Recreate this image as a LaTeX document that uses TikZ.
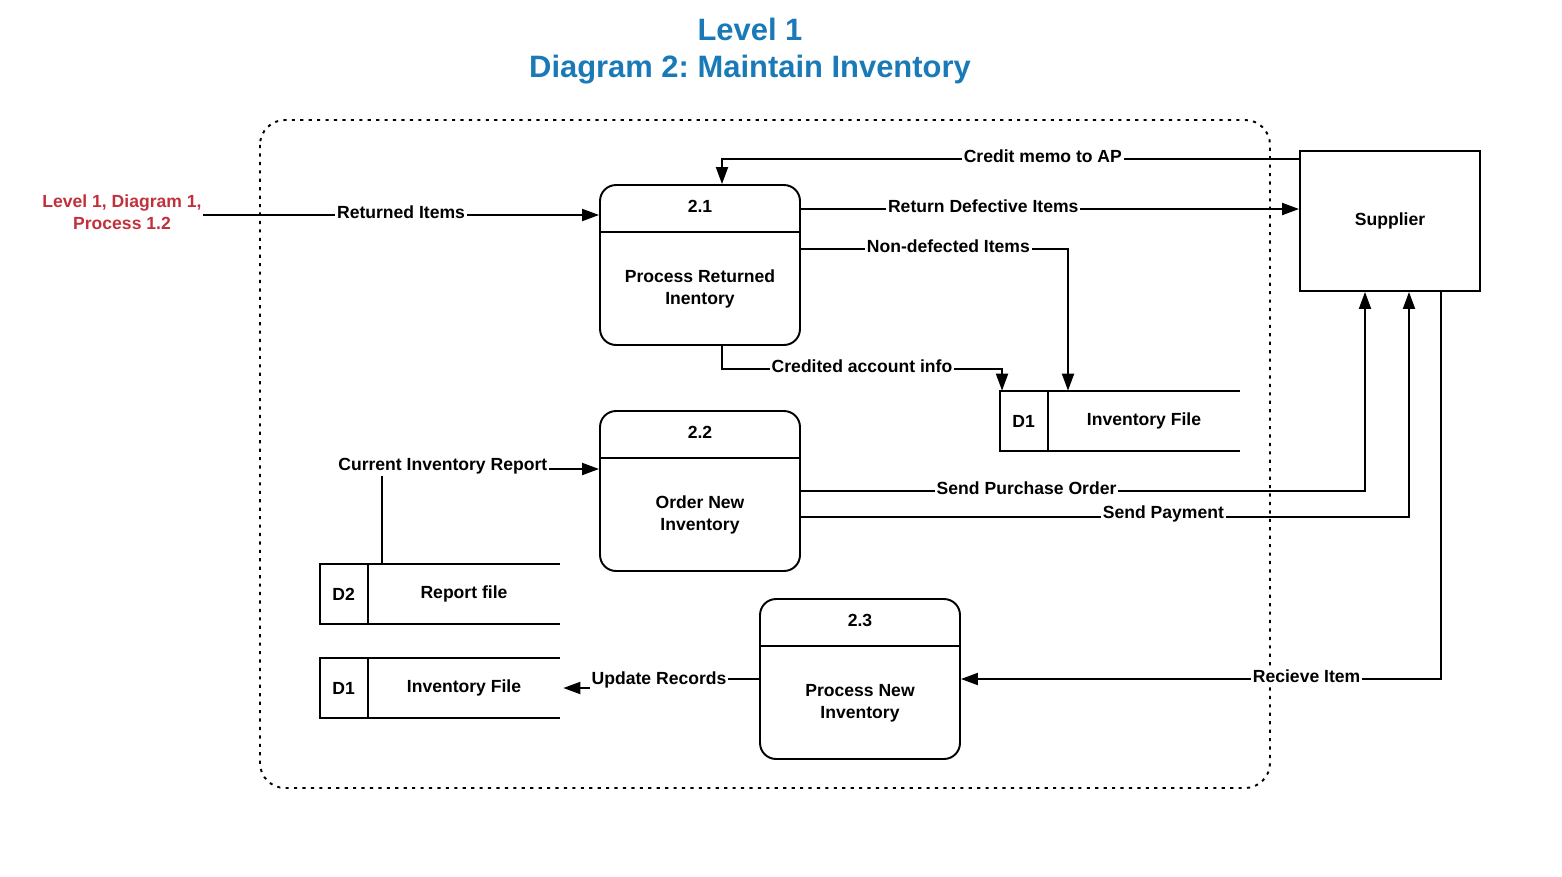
\documentclass[tikz,border=0pt]{standalone}
\usepackage{fontspec}
\setmainfont{Liberation Sans}
\frenchspacing
\usetikzlibrary{arrows.meta}
\tikzset{
  flow/.style={line width=1.1pt, -{Triangle[length=0.34cm,width=0.24cm]}},
  plain/.style={line width=1.1pt},
  lbl/.style={font=\bfseries\fontsize{10}{12}\selectfont, fill=white, inner sep=1pt, yshift=0.06cm},
  proc/.style={draw, line width=1.1pt, rounded corners=0.32cm, minimum width=4cm, minimum height=3.2cm},
  store/.style={minimum width=4.8cm, minimum height=1.2cm},
  txt/.style={font=\bfseries\fontsize{10}{12.5}\selectfont, align=center},
}
\begin{document}
\begin{tikzpicture}[x=0.02cm, y=-0.02cm]
            \definecolor{ttl}{HTML}{1A7AB8}
            \definecolor{ext}{HTML}{C1313C}
            \useasboundingbox (0,0) rectangle (1562,876);
            % title
            \node[font=\bfseries\fontsize{17.6}{21}\selectfont, text=ttl] (t1) at (750,29) {Level 1};
            \node[font=\bfseries\fontsize{17.6}{21}\selectfont, text=ttl] (t2) at (750,70) {Diagram 2: Maintain Inventory};
            % system boundary
            \draw[line width=1.1pt, dash pattern=on 1.8pt off 3pt, rounded corners=0.5cm] (260,120) rectangle (1270,788);
            % external source
            \node[txt, text=ext] (src) at (122,212) {Level 1, Diagram 1,\\Process 1.2};
            \coordinate (srcend) at (203,215);
            % processes
            \node[proc] (p1) at (700,265) {};
            \node[proc] (p2) at (700,491) {};
            \node[proc] (p3) at (860,679) {};
            \draw[plain] ([yshift=-0.96cm]p1.north west) -- ([yshift=-0.96cm]p1.north east);
            \draw[plain] ([yshift=-0.96cm]p2.north west) -- ([yshift=-0.96cm]p2.north east);
            \draw[plain] ([yshift=-0.96cm]p3.north west) -- ([yshift=-0.96cm]p3.north east);
            \node[txt] at ([yshift=-0.44cm]p1.north) {2.1};
            \node[txt] at ([yshift=-0.44cm]p2.north) {2.2};
            \node[txt] at ([yshift=-0.44cm]p3.north) {2.3};
            \node[txt] at ([yshift=-2.1cm]p1.north) {Process Returned\\Inentory};
            \node[txt] at ([yshift=-2.1cm]p2.north) {Order New\\Inventory};
            \node[txt] at ([yshift=-2.1cm]p3.north) {Process New\\Inventory};
            % supplier
            \node[draw, line width=1.1pt, minimum width=3.6cm, minimum height=2.8cm, txt] (sup) at (1390,221) {Supplier};
            % data stores
            \node[store] (d1a) at (1120,421) {};
            \node[store] (d2) at (440,594) {};
            \node[store] (d1b) at (440,688) {};
            \draw[plain] (d1a.north east) -- (d1a.north west) -- (d1a.south west) -- (d1a.south east);
            \draw[plain] (d2.north east) -- (d2.north west) -- (d2.south west) -- (d2.south east);
            \draw[plain] (d1b.north east) -- (d1b.north west) -- (d1b.south west) -- (d1b.south east);
            \draw[plain] ([xshift=0.96cm]d1a.north west) -- ([xshift=0.96cm]d1a.south west);
            \draw[plain] ([xshift=0.96cm]d2.north west) -- ([xshift=0.96cm]d2.south west);
            \draw[plain] ([xshift=0.96cm]d1b.north west) -- ([xshift=0.96cm]d1b.south west);
            \node[txt] at ([xshift=0.48cm]d1a.west) {D1};
            \node[txt] at ([xshift=0.48cm]d2.west) {D2};
            \node[txt] at ([xshift=0.48cm]d1b.west) {D1};
            \node[txt] at ([xshift=0.48cm]d1a.center) {Inventory File};
            \node[txt] at ([xshift=0.48cm]d2.center) {Report file};
            \node[txt] at ([xshift=0.48cm]d1b.center) {Inventory File};
            % flows
            \draw[flow] (srcend) -- (srcend -| p1.west) node[lbl, pos=0.5] {Returned Items};
            \draw[flow] ([yshift=-0.18cm]sup.north west) -| ([xshift=0.44cm]p1.north) node[lbl, pos=0.222] {Credit memo to AP};
            \draw[flow] ([yshift=1.12cm]p1.east) -- ([yshift=1.12cm]p1.east -| sup.west) node[lbl, pos=0.366] {Return Defective Items};
            \draw[flow] ([yshift=0.32cm]p1.east) -| ([xshift=-1.04cm]d1a.north) node[lbl, pos=0.276] {Non-defected Items};
            \draw[flow] ([xshift=0.44cm]p1.south) -- ++(0,23) -| ([xshift=-2.36cm]d1a.north) node[lbl, pos=0.25] {Credited account info};
            \draw[flow] ([xshift=-1.16cm]d2.north) |- ([yshift=0.44cm]p2.west) node[lbl, pos=0.64] {Current Inventory Report};
            \draw[flow] (p2.east) -| ([xshift=-0.5cm]sup.south) node[lbl, pos=0.2] {Send Purchase Order};
            \draw[flow] ([yshift=-0.52cm]p2.east) -| ([xshift=0.38cm]sup.south) node[lbl, pos=0.298] {Send Payment};
            \draw[flow] ([xshift=1.02cm]sup.south) |- (p3.east) node[lbl, pos=0.64] {Recieve Item};
            \draw[flow] (p3.west) -- ++(-100,0) node[lbl, yshift=-0.08cm] {Update Records} |- ([xshift=0.06cm]d1b.east);
        \end{tikzpicture}
\end{document}
